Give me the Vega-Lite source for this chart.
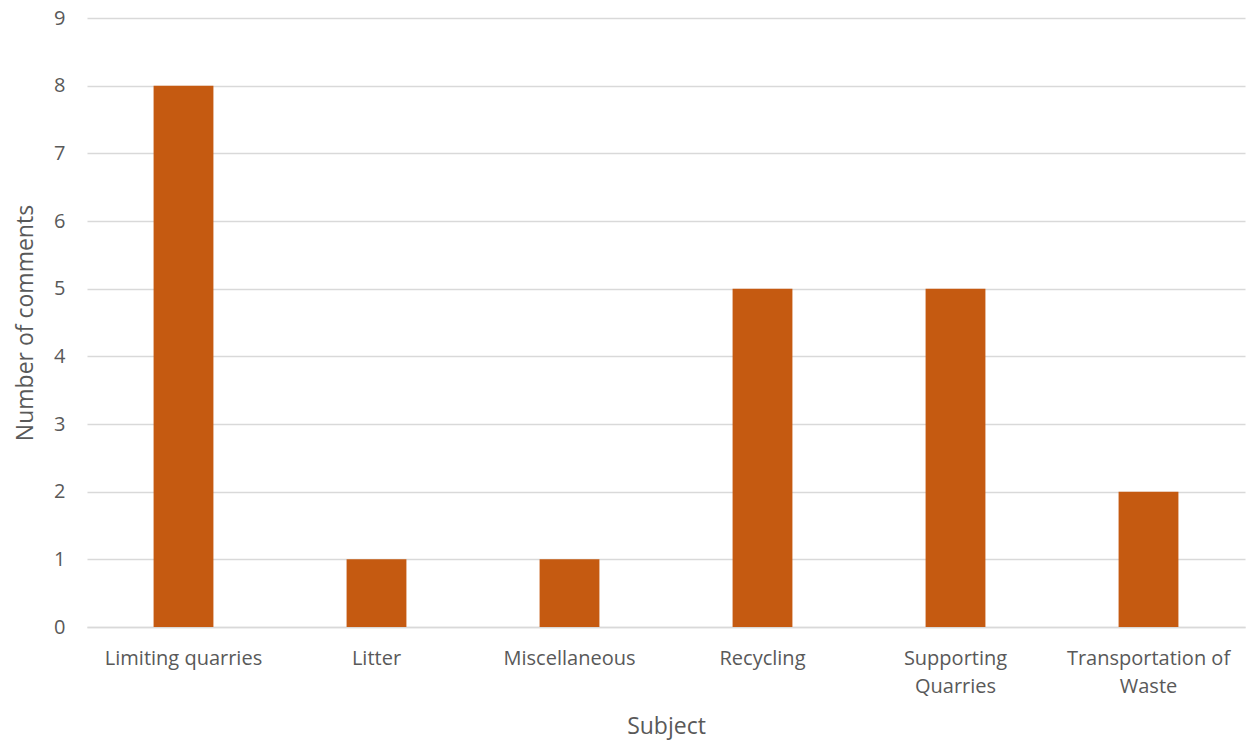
{
  "$schema": "https://vega.github.io/schema/vega-lite/v6.json",
  "autosize": {"type": "none"},
  "padding": {"left": 87, "top": 18, "right": 13, "bottom": 113},
  "width": 1158,
  "height": 609,
  "background": "white",
  "data": {"values": [
    {"subject": "Limiting quarries", "count": 8},
    {"subject": "Litter", "count": 1},
    {"subject": "Miscellaneous", "count": 1},
    {"subject": "Recycling", "count": 5},
    {"subject": "Supporting Quarries", "count": 5},
    {"subject": "Transportation of Waste", "count": 2}
  ]},
  "mark": {"type": "bar", "color": "#C55A11"},
  "encoding": {
    "x": {
      "field": "subject", "type": "nominal", "sort": null,
      "scale": {"paddingInner": 0.69, "paddingOuter": 0.345},
      "axis": {
        "title": "Subject", "labelAngle": 0, "ticks": false,
        "domainColor": "#D9D9D9", "domainWidth": 1.3,
        "labelFont": "Open Sans", "labelFontSize": 20, "labelColor": "#595959",
        "labelPadding": 21, "labelLineHeight": 28, "labelOverlap": false,
        "labelExpr": "datum.label == 'Supporting Quarries' ? ['Supporting', 'Quarries'] : datum.label == 'Transportation of Waste' ? ['Transportation of', 'Waste'] : datum.label",
        "titleFont": "Open Sans", "titleFontSize": 23, "titleFontWeight": "normal", "titleColor": "#595959",
        "titlePadding": 19
      }
    },
    "y": {
      "field": "count", "type": "quantitative",
      "scale": {"domain": [0, 9]},
      "axis": {
        "title": "Number of comments", "values": [0,1,2,3,4,5,6,7,8,9],
        "domain": false, "ticks": false, "labelOverlap": false,
        "gridColor": "#D9D9D9", "gridWidth": 1.3,
        "labelFont": "Open Sans", "labelFontSize": 20, "labelColor": "#595959",
        "labelPadding": 22,
        "titleFont": "Open Sans", "titleFontSize": 23, "titleFontWeight": "normal", "titleColor": "#595959",
        "titlePadding": 16
      }
    }
  },
  "config": {"view": {"stroke": null}}
}
